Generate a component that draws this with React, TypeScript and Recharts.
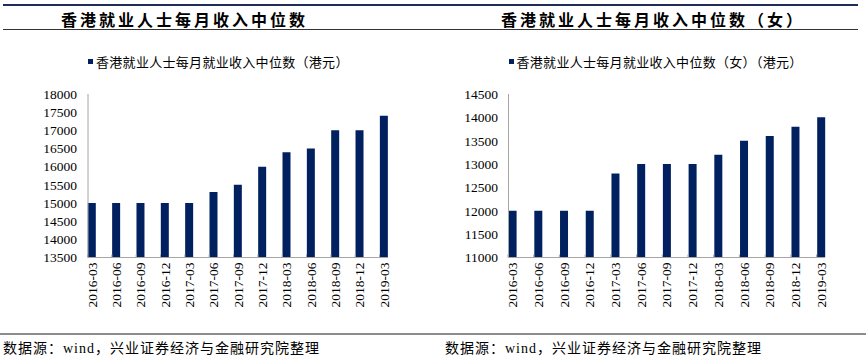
import React from 'react';
import { BarChart, Bar, XAxis, YAxis } from 'recharts';

const quarters = [
  '2016-03', '2016-06', '2016-09', '2016-12', '2017-03', '2017-06', '2017-09',
  '2017-12', '2018-03', '2018-06', '2018-09', '2018-12', '2019-03',
];

// 港元
const allIncome = [15000, 15000, 15000, 15000, 15000, 15300, 15500, 16000, 16400, 16500, 17000, 17000, 17400];
const femaleIncome = [12000, 12000, 12000, 12000, 12800, 13000, 13000, 13000, 13200, 13500, 13600, 13800, 14000];

const allTicks = [13500, 14000, 14500, 15000, 15500, 16000, 16500, 17000, 17500, 18000];
const femaleTicks = [11000, 11500, 12000, 12500, 13000, 13500, 14000, 14500];

const BAR = '#002060';
const AXIS = '#a6a6a6';
const SERIF = '"Liberation Serif", "Times New Roman", "Noto Sans CJK SC", serif';
const CJK = '"Liberation Serif", "Noto Sans CJK SC", serif';

const QuarterTick = (props: any) => {
  const { x, y, payload } = props;
  return (
    <g transform={`translate(${x},${y})`}>
      <line x1={-4.5} x2={-4.5} y1={0} y2={-3} stroke={AXIS} />
      <text
        transform="rotate(-90)"
        x={-5}
        y={0}
        dy="0.35em"
        textAnchor="end"
        fontSize={13.5}
        fontFamily={SERIF}
        fill="#000"
      >
        {payload.value}
      </text>
    </g>
  );
};

interface PanelProps {
  left: number;
  title: string;
  titleX: number;
  legend: string;
  values: number[];
  ticks: number[];
  yWidth: number;
  right: number;
  pad: number;
  tickGap: number;
}

const Panel: React.FC<PanelProps> = ({ left, title, titleX, legend, values, ticks, yWidth, right, pad, tickGap }) => {
  const data = quarters.map((q, i) => ({ q, v: values[i] }));
  return (
    <div style={{ position: 'absolute', left, top: 0, width: 433, height: 330 }}>
      <div
        style={{
          position: 'absolute', left: titleX, top: 7, fontSize: 16, letterSpacing: 3,
          fontFamily: CJK, fontWeight: 600, whiteSpace: 'nowrap', color: '#000',
        }}
      >
        {title}
      </div>
      <div style={{ position: 'absolute', left: yWidth, top: 52, display: 'flex', alignItems: 'center' }}>
        <div style={{ width: 5, height: 5, background: BAR, marginRight: 3 }} />
        <span style={{ fontSize: 13, letterSpacing: 0.3, fontFamily: CJK, whiteSpace: 'nowrap', color: '#000' }}>
          {legend}
        </span>
      </div>
      <BarChart width={433} height={330} data={data} margin={{ top: 94, right, bottom: 12.5, left: 0 }}>
        <XAxis
          dataKey="q"
          interval={0}
          height={60}
          padding={{ left: -pad, right: -pad }}
          stroke={AXIS}
          tickLine={false}
          tickSize={0}
          tickMargin={0}
          tick={<QuarterTick />}
        />
        <YAxis
          width={yWidth}
          domain={[ticks[0], ticks[ticks.length - 1]]}
          ticks={ticks}
          interval={0}
          stroke={AXIS}
          tickLine={false}
          tickSize={0}
          tickMargin={tickGap}
          tick={{ fill: '#000', fontSize: 13.5, fontFamily: SERIF }}
          allowDataOverflow
        />
        <Bar dataKey="v" fill={BAR} barSize={8} isAnimationActive={false} />
      </BarChart>
    </div>
  );
};

export default function App() {
  return (
    <div style={{ position: 'absolute', left: 0, top: 0, width: 866, height: 358, background: '#fff', overflow: 'hidden' }}>
      <div style={{ position: 'absolute', left: 3, top: 4, width: 855, height: 2, background: '#1f2d5a' }} />
      <div style={{ position: 'absolute', left: 3, top: 29, width: 855, height: 1, background: '#333' }} />
      <Panel
        left={0}
        title="香港就业人士每月收入中位数"
        titleX={61}
        legend="香港就业人士每月就业收入中位数（港元）"
        values={allIncome}
        ticks={allTicks}
        yWidth={88}
        right={45}
        pad={8.2}
        tickGap={11}
      />
      <Panel
        left={433}
        title="香港就业人士每月收入中位数（女）"
        titleX={68}
        legend="香港就业人士每月就业收入中位数（女）（港元）"
        values={femaleIncome}
        ticks={femaleTicks}
        yWidth={75.5}
        right={41}
        pad={8.9}
        tickGap={10.5}
      />
      <div style={{ position: 'absolute', left: 0, top: 333, width: 866, height: 2, background: '#8c8c8c' }} />
      <div style={{ position: 'absolute', left: 3, top: 337, fontSize: 14, letterSpacing: 1, fontFamily: CJK, whiteSpace: 'nowrap' }}>
        数据源：wind，兴业证券经济与金融研究院整理
      </div>
      <div style={{ position: 'absolute', left: 445, top: 337, fontSize: 14, letterSpacing: 1, fontFamily: CJK, whiteSpace: 'nowrap' }}>
        数据源：wind，兴业证券经济与金融研究院整理
      </div>
    </div>
  );
}
